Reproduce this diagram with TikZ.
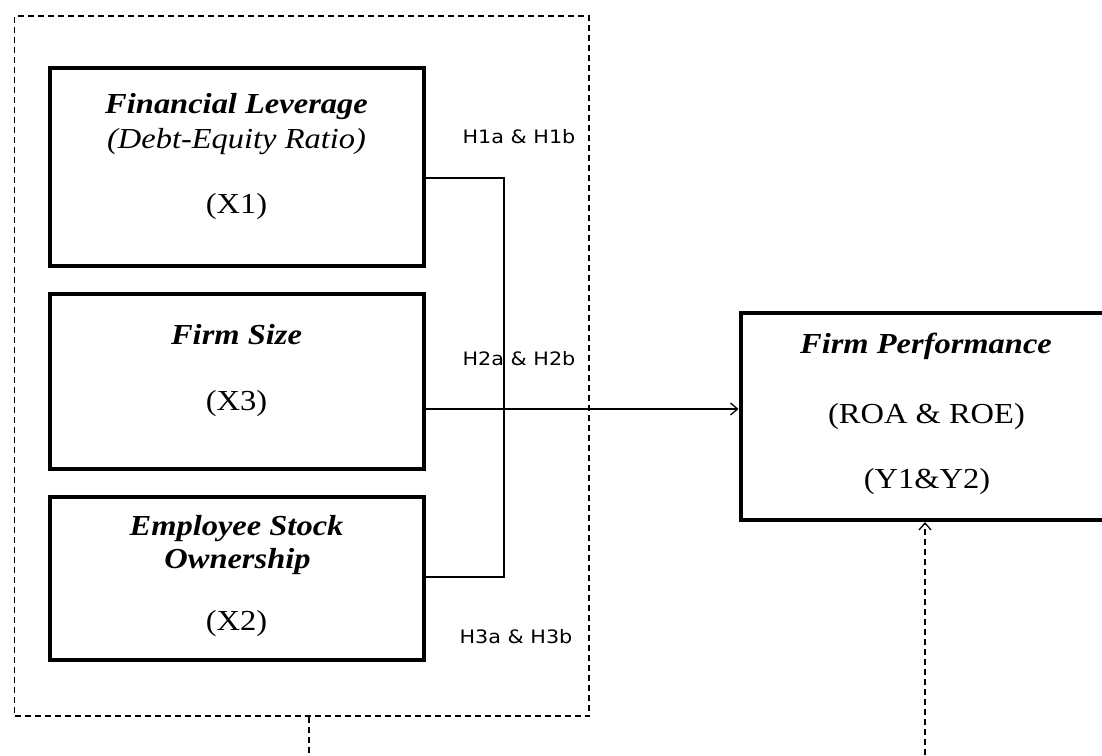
\documentclass[tikz,border=0pt]{standalone}
\usepackage{fontspec}
\setmainfont[FakeStretch=1.12]{Liberation Serif}
\newfontfamily\hypfont[FakeStretch=1.12]{DejaVu Sans}
\usetikzlibrary{arrows.meta}
\begin{document}
\begin{tikzpicture}[x=1pt,y=-1pt,
  varbox/.style={draw, line width=4pt, inner sep=0pt},
  grpbox/.style={draw, line width=1.4pt, dash pattern=on 6pt off 4pt, inner sep=0pt},
  conn/.style={draw, line width=1.4pt},
  dashln/.style={draw, line width=1.4pt, dash pattern=on 6pt off 4pt},
  tip/.style={-{Straight Barb[length=7pt,width=12pt,line width=1.3pt]}},
  txt/.style={anchor=base, inner sep=0pt, font=\fontsize{29}{35}\selectfont},
  ttl/.style={anchor=base, inner sep=0pt, font=\fontsize{29}{35}\selectfont\bfseries\itshape},
  sub/.style={anchor=base, inner sep=0pt, font=\fontsize{29}{35}\selectfont\itshape},
  hyp/.style={anchor=base, inner sep=0pt, font=\hypfont\fontsize{18.5}{22}\selectfont}]
\useasboundingbox (0,0) rectangle (1102,755);
% group box
\node[grpbox, minimum width=574.5pt, minimum height=700pt] (grp) at (301.75,366) {};
% variable boxes
\node[varbox, minimum width=374pt, minimum height=198pt] (x1) at (237,167) {};
\node[varbox, minimum width=374pt, minimum height=175pt] (x3) at (237,381.5) {};
\node[varbox, minimum width=374pt, minimum height=163pt] (x2) at (237,578.5) {};
\node[varbox, minimum width=369pt, minimum height=207pt] (fp) at (925,416.5) {};
% texts
\node[ttl] (t1) at (236.5,113) {Financial Leverage};
\node[sub] (t1b) at (236.5,148) {(Debt-Equity Ratio)};
\node[txt] (t1c) at (236.5,213) {(X1)};
\node[ttl] (t3) at (236.5,344) {Firm Size};
\node[txt] (t3c) at (236.5,410) {(X3)};
\node[ttl] (t2) at (236.5,535) {Employee Stock};
\node[ttl] (t2b) at (237.5,568) {Ownership};
\node[txt] (t2c) at (236.5,630) {(X2)};
\node[ttl] (tf) at (926,353) {Firm Performance};
\node[txt] (tfb) at (926.5,423) {(ROA \& ROE)};
\node[txt] (tfc) at (927,488) {(Y1\&Y2)};
% hypothesis labels
\node[hyp] (h1) at (519,143) {H1a \& H1b};
\node[hyp] (h2) at (519,365) {H2a \& H2b};
\node[hyp] (h3) at (516,643) {H3a \& H3b};
% connectors
\coordinate (jt) at (504,178);
\coordinate (jb) at (504,577);
\coordinate (ay) at (0,409);
\coordinate (d1) at (309,755);
\coordinate (d2) at (925,755);
\draw[conn] (x1.east |- jt) -- (jt) -- (jb) -- (x2.east |- jb);
\draw[conn, tip] (x3.east |- ay) -- (fp.west |- ay);
\draw[dashln] (grp.south -| d1) -- (d1);
\draw[dashln, tip] (d2) -- (fp.south);
\end{tikzpicture}
\end{document}
